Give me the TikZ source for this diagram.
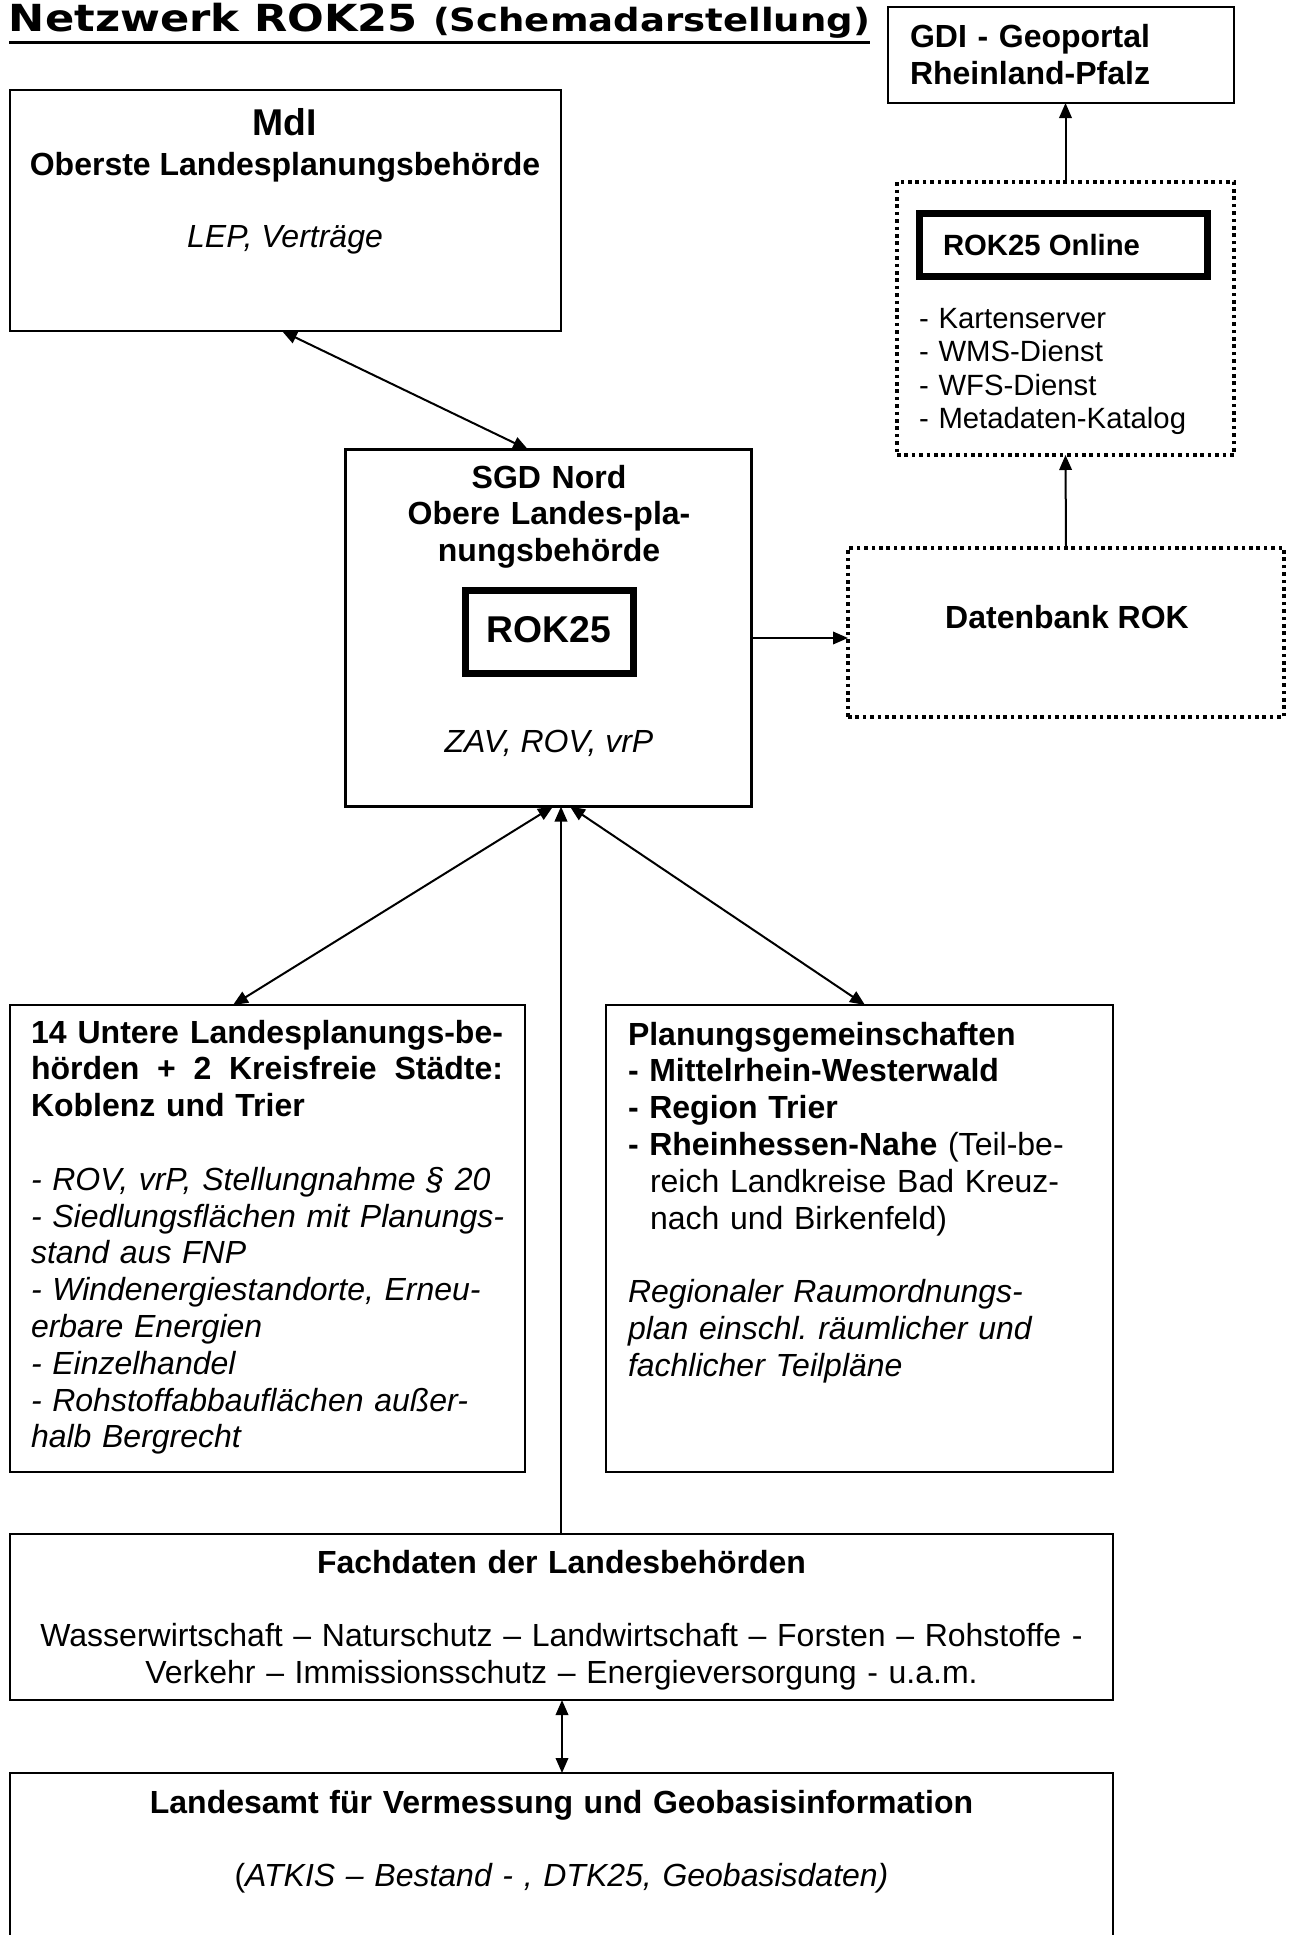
\documentclass[tikz,border=0pt]{standalone}
\usepackage{fontspec}
\setmainfont{Liberation Sans}
\newfontfamily\titlefont{DejaVu Sans}
\usetikzlibrary{arrows.meta,calc}
\frenchspacing
\begin{document}
\begin{tikzpicture}[x=1pt,y=-1pt,
  box/.style={draw,line width=2pt,rectangle,inner sep=0pt,outer sep=0pt},
  dotbox/.style={draw,line width=3.3pt,dash pattern=on 3.6pt off 3.8pt,rectangle,inner sep=0pt,outer sep=0pt},
  thickbox/.style={draw,line width=7pt,rectangle,inner sep=0pt,outer sep=0pt},
  txt/.style={inner sep=0pt,outer sep=0pt,font=\fontsize{32}{36.8}\selectfont},
  Tri/.tip={Triangle[length=15pt,width=12.5pt]},
  arr/.style={line width=2pt,-Tri},
  darr/.style={line width=2pt,Tri-Tri}]
\useasboundingbox (0,0) rectangle (1292,1935);
\clip (0,0) rectangle (1292,1935);

% boxes
\node[box,minimum width=346pt,minimum height=96pt] (gdi) at (1061,55) {};
\node[dotbox,minimum width=337pt,minimum height=273pt] (online) at (1065.5,318.5) {};
\node[thickbox,minimum width=288pt,minimum height=63pt] (onlinein) at (1063.5,245) {};
\node[dotbox,minimum width=436pt,minimum height=169pt] (db) at (1066,632.5) {};
\node[box,minimum width=551pt,minimum height=241pt] (mdi) at (285.5,210.5) {};
\node[box,line width=3.5pt,minimum width=406pt,minimum height=357pt] (sgd) at (548.5,628) {};
\node[thickbox,minimum width=168pt,minimum height=83pt] (rok) at (549.5,632) {};
\node[box,minimum width=515pt,minimum height=467pt] (lbox) at (267.5,1238.5) {};
\node[box,minimum width=507pt,minimum height=467pt] (rbox) at (859.5,1238.5) {};
\node[box,minimum width=1103pt,minimum height=166pt] (fach) at (561.5,1617) {};
\node[box,minimum width=1103pt,minimum height=200pt] (lva) at (561.5,1873) {};

% title
\node[anchor=base west,inner sep=0pt,outer sep=0pt] (title) at (9,31.5)
  {\resizebox{861pt}{\height}{\titlefont\bfseries\fontsize{37.3}{44}\selectfont Netzwerk ROK25 \fontsize{32}{38}\selectfont(Schemadarstellung)}};
\draw[line width=3pt] ([yshift=-11pt]title.base west) -- ([yshift=-11pt]title.base east);

% texts
\node[txt,anchor=base west,text width=320pt,align=left,font=\fontsize{32}{36.8}\selectfont\bfseries] (gditxt) at (910,48)
  {GDI - Geoportal\\Rheinland-Pfalz};
\node[txt,anchor=base west,font=\fontsize{29.3}{33.5}\selectfont\bfseries] (ontxt) at (943,255) {ROK25 Online};
\node[txt,anchor=base west,text width=310pt,align=left,font=\fontsize{29.3}{33.5}\selectfont] (list) at (919,328)
  {- Kartenserver\\- WMS-Dienst\\- WFS-Dienst\\- Metadaten-Katalog};
\node[txt,anchor=base,font=\fontsize{32}{36.8}\selectfont\bfseries] (dbtxt) at (1067,628) {Datenbank ROK};

\node[txt,anchor=base,font=\fontsize{37.3}{43}\selectfont\bfseries] (mditit) at (285,135) {MdI};
\node[txt,anchor=base,font=\fontsize{32}{36.8}\selectfont\bfseries] (mdisub) at (285,175) {Oberste Landesplanungsbehörde};
\node[txt,anchor=base,font=\fontsize{32}{36.8}\selectfont\itshape] (mditxt) at (285,247) {LEP, Verträge};

\node[txt,anchor=base,text width=400pt,align=center,font=\fontsize{32}{36.8}\selectfont\bfseries] (sgdtxt) at (549,488)
  {SGD Nord\\Obere Landes-pla-\\nungsbehörde};
\node[txt,anchor=base,font=\fontsize{37.3}{43}\selectfont\bfseries] (roktxt) at (549,642) {ROK25};
\node[txt,anchor=base,font=\fontsize{32}{36.8}\selectfont\itshape] (sgdit) at (549,752) {ZAV, ROV, vrP};

\node[txt,anchor=base west,text width=490pt,align=left] (ltxt) at (31,1043) {%
\textbf{\makebox[472pt][l]{14\hfill Untere\hfill Landesplanungs-be-}}\\
\textbf{\makebox[472pt][l]{hörden\hfill +\hfill 2\hfill Kreisfreie\hfill Städte:}}\\
\textbf{Koblenz und Trier}\\[36.8pt]
\textit{- ROV, vrP, Stellungnahme § 20}\\
\textit{- Siedlungsflächen mit Planungs-}\\
\textit{stand aus FNP}\\
\textit{- Windenergiestandorte, Erneu-}\\
\textit{erbare Energien}\\
\textit{- Einzelhandel}\\
\textit{- Rohstoffabbauflächen außer-}\\
\textit{halb Bergrecht}};

\node[txt,anchor=base west,text width=480pt,align=left] (rtxt) at (628,1045) {%
\textbf{Planungsgemeinschaften}\\
\textbf{- Mittelrhein-Westerwald}\\
\textbf{- Region Trier}\\
\textbf{- Rheinhessen-Nahe} (Teil-be-\\
\hspace*{22pt}reich Landkreise Bad Kreuz-\\
\hspace*{22pt}nach und Birkenfeld)\\[36.8pt]
\textit{Regionaler Raumordnungs-}\\
\textit{plan einschl. räumlicher und}\\
\textit{fachlicher Teilpläne}};

\node[txt,anchor=base,text width=1090pt,align=center] (fachtxt) at (561.5,1573) {%
\textbf{Fachdaten der Landesbehörden}\\[36.8pt]
Wasserwirtschaft – Naturschutz – Landwirtschaft – Forsten – Rohstoffe -\\
Verkehr – Immissionsschutz – Energieversorgung - u.a.m.};

\node[txt,anchor=base,text width=1090pt,align=center] (lvatxt) at (561.5,1813) {%
\textbf{Landesamt für Vermessung und Geobasisinformation}\\[36.8pt]
(\textit{ATKIS – Bestand - , DTK25, Geobasisdaten)}};

% connectors
\draw[darr] ($(mdi.south west)+(272,0)$) -- ($(sgd.north west)+(182.5,0)$);
\draw[arr] ($(sgd.east)+(0,10)$) -- ($(db.west)+(0,5.5)$);
\draw[arr] (db.north) -- (online.south);
\draw[arr] (online.north) -- (online.north |- gdi.south);
\draw[darr] ($(sgd.south)+(4.5,0)$) -- ($(lbox.north west)+(223,0)$);
\draw[darr] ($(sgd.south)+(21.5,0)$) -- ($(rbox.north west)+(259,0)$);
\draw[arr] ($(fach.north west)+(551,0)$) coordinate (v0) -- (v0 |- sgd.south);
\draw[darr] ($(fach.south west)+(552,0)$) coordinate (v1) -- (v1 |- lva.north);
\end{tikzpicture}
\end{document}
